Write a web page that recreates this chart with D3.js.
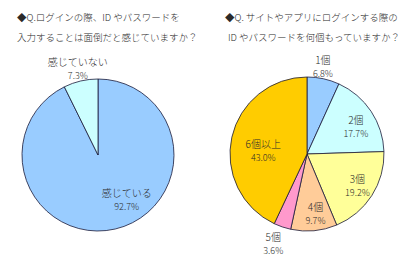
<!DOCTYPE html>
<html>
<head>
<meta charset="utf-8">
<script src="https://cdn.jsdelivr.net/npm/d3@7"></script>
<style>
  body { margin: 0; background: #fff; }
  text { font-family: "Noto Sans CJK JP", "Noto Sans", sans-serif; fill: #2a2a2a; font-weight: 300; }
</style>
</head>
<body>
<div id="chart"></div>
<script>
// left pie: 面倒だと感じるか
const leftLabels = ["感じている", "感じていない"];
const leftValues = [92.7, 7.3];
const leftColors = ["#99ccff", "#ccffff"];

// right pie: IDやパスワードの数
const rightLabels = ["1個", "2個", "3個", "4個", "5個", "6個以上"];
const rightValues = [6.8, 17.7, 19.2, 9.7, 3.6, 43.0];
const rightColors = ["#99ccff", "#ccffff", "#ffff99", "#ffcc99", "#ff99cc", "#ffcc00"];

const leftTitle = ["◆Q.ログインの際、ID やパスワードを", "入力することは面倒だと感じていますか？"];
const rightTitle = ["◆Q. サイトやアプリにログインする際の", "ID やパスワードを何個もっていますか？"];

const width = 400, height = 261;

const svg = d3
  .select("#chart")
  .append("svg")
  .attr("width", width)
  .attr("height", height);

// label placement: [radius factor, angle shift in degrees] per slice
const leftLabelPos = [[0.69, -20], [1.17, 0]];
const rightLabelPos = [[1.16, -2], [0.73, 4], [0.77, -1], [0.77, -3], [1.24, 2], [0.57, -8]];

function drawPie(cx, cy, r, labels, values, colors, labelPos) {
  const g = svg.append("g").attr("transform", `translate(${cx},${cy})`);
  const pie = d3.pie().sort(null).value(function (d) { return d; });
  const arcs = pie(values);
  const arc = d3.arc().innerRadius(0).outerRadius(r);

  g.selectAll("path")
    .data(arcs)
    .join("path")
    .attr("d", arc)
    .attr("fill", function (d, i) { return colors[i]; })
    .attr("stroke", "#1a1a3a")
    .attr("stroke-width", 0.8);

  arcs.forEach(function (d, i) {
    const a = (d.startAngle + d.endAngle) / 2 + labelPos[i][1] * Math.PI / 180;
    const rr = r * labelPos[i][0];
    const x = Math.sin(a) * rr, y = -Math.cos(a) * rr;
    g.append("text")
      .attr("x", x)
      .attr("y", y - 2)
      .attr("text-anchor", "middle")
      .attr("font-size", "10px")
      .text(labels[i]);
    g.append("text")
      .attr("x", x)
      .attr("y", y + 11)
      .attr("text-anchor", "middle")
      .attr("font-size", "9px")
      .attr("font-family", "Arial, 'Liberation Sans', sans-serif")
      .text(d3.format(".1f")(values[i]) + "%");
  });
}

function drawTitle(x, lines, indent) {
  svg.selectAll(null)
    .data(lines)
    .enter()
    .append("text")
    .attr("x", function (d, i) { return x + (i === 0 ? 0 : indent); })
    .attr("y", function (d, i) { return 21 + i * 20; })
    .attr("font-size", "9.5px")
    .text(function (d) { return d; });
}

drawTitle(17, leftTitle, 0);
drawTitle(225, rightTitle, 3);

drawPie(98, 155, 76, leftLabels, leftValues, leftColors, leftLabelPos);
drawPie(307, 154, 77, rightLabels, rightValues, rightColors, rightLabelPos);
</script>
</body>
</html>
